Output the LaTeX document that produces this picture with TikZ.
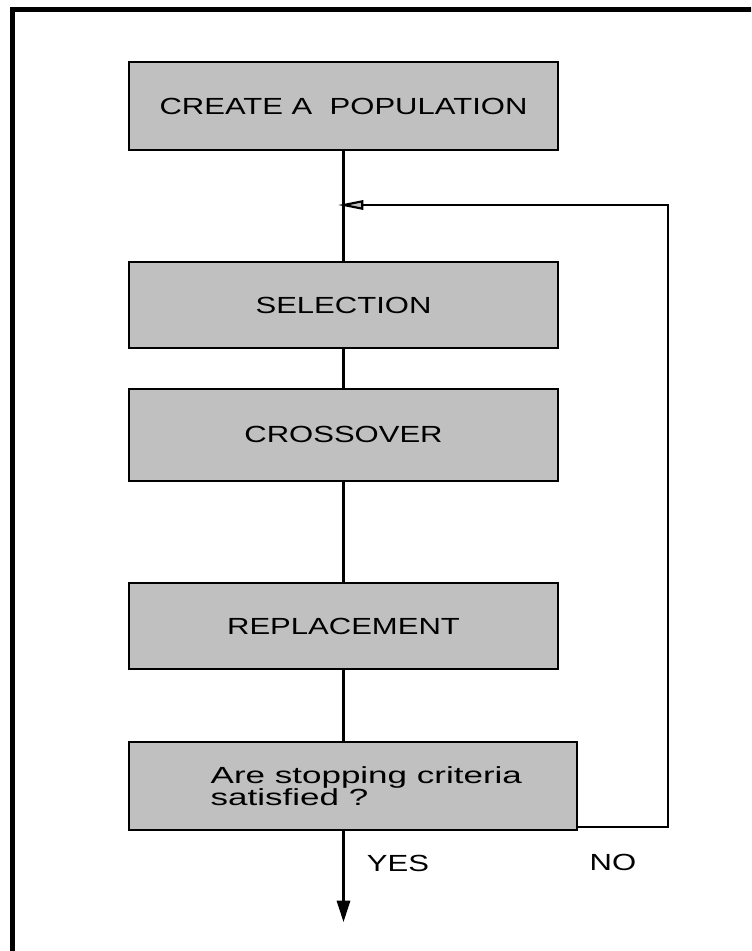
\documentclass[tikz,border=0pt]{standalone}
\usepackage{fontspec}
\setmainfont{Liberation Sans}[FakeStretch=1.33]
\newfontfamily\widesans{Liberation Sans}[FakeStretch=1.5]
\usepackage{xcolor}
\usetikzlibrary{arrows.meta}
\definecolor{boxgray}{RGB}{192,192,192}

\begin{document}
\begin{tikzpicture}[x=0.75pt, y=-0.75pt,
    stage/.style={draw, line width=1.5pt, fill=boxgray, minimum width=321.75pt, minimum height=65pt, inner sep=0pt, font=\fontsize{17.5}{16.5}\selectfont},
    link/.style={line width=1.6pt},
    word/.style={inner sep=0pt, font=\fontsize{17.5}{16.5}\selectfont}]
    \useasboundingbox (0,0) rectangle (751,951);
    \clip (0,0) rectangle (751,951);

    % Frame (only top and left edges show)
    \draw[line width=3.6pt] (12.5,970) -- (12.5,9.5) -- (770,9.5);

    % The stages
    \node[stage, minimum height=66pt] (create) at (343.5,106) {CREATE A \ POPULATION};
    \node[stage] (select) at (343.5,305) {SELECTION};
    \node[stage, minimum height=69pt] (cross) at (343.5,434.5) {CROSSOVER};
    \node[stage] (replace) at (343.5,626) {REPLACEMENT};
    \node[stage, minimum width=336pt, minimum height=66pt,
          label={[word, align=left, xshift=10pt, font=\widesans\fontsize{17.5}{16.5}\selectfont]center:Are stopping criteria\\satisfied ?}] (stop) at (353,786) {};

    % Points on the loop
    \coordinate (join) at (338,205);
    \coordinate (turn) at (668,205);
    \coordinate (exit) at (343.5,922);

    % Draw the Edges
    \draw[link] (create) -- (select);
    \draw[link] (select) -- (cross);
    \draw[link] (cross) -- (replace);
    \draw[link] (replace.south) -- (replace.south |- stop.north);

    % Back to selection
    \draw[link, -{Triangle[length=19pt, width=7pt, fill=boxgray]}] ([yshift=3pt]stop.south east) -| (turn) -- (join);

    % Way out
    \draw[link, -{Triangle[length=16pt, width=10pt]}] (exit |- stop.south) -- (exit);

    % Answers
    \node[word] (no) at (613,862) {NO};
    \node[word] (yes) at (398,863) {YES};
\end{tikzpicture}
\end{document}
